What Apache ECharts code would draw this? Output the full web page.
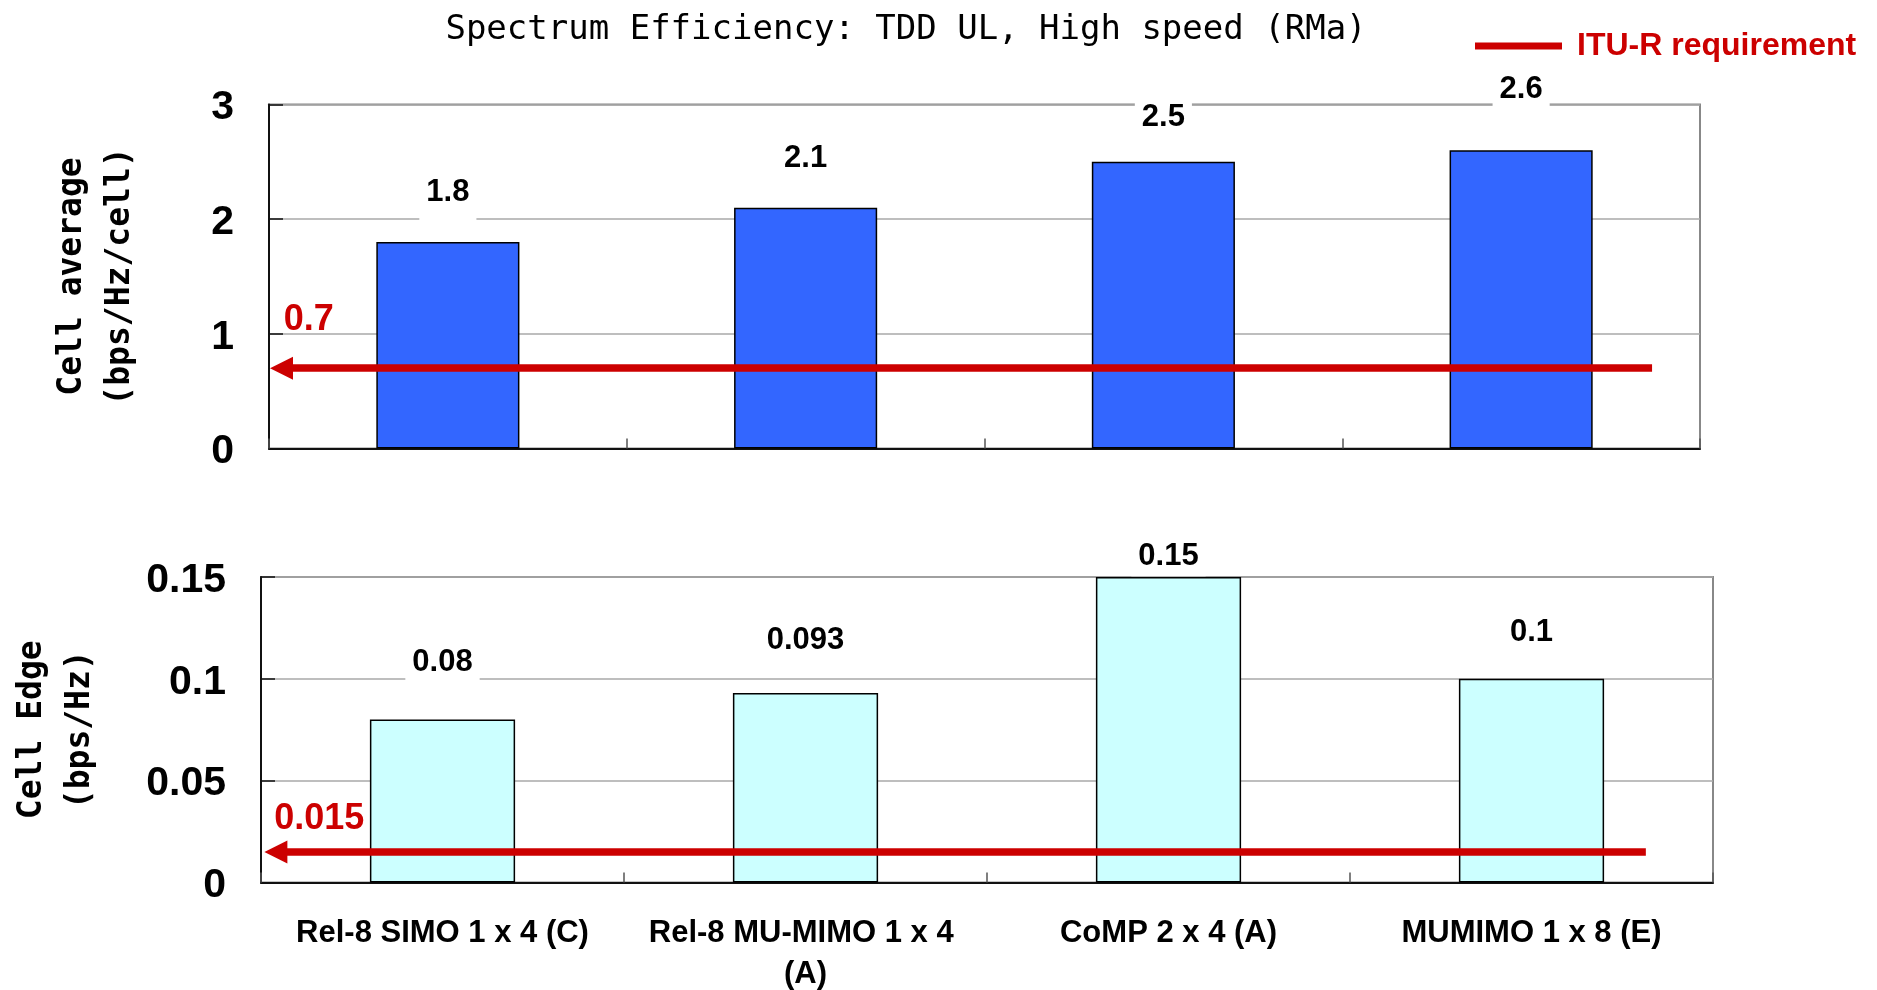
<!DOCTYPE html>
<html>
<head>
<meta charset="utf-8">
<script src="https://cdn.jsdelivr.net/npm/echarts@6/dist/echarts.min.js"></script>
<style>
  html, body { margin: 0; padding: 0; background: #fff; }
  #chart { width: 1877px; height: 990px; }
</style>
</head>
<body>
<div id="chart"></div>
<script>
// Schemes compared on the horizontal axis
const categories = ['Rel-8 SIMO 1 x 4 (C)', 'Rel-8 MU-MIMO 1 x 4 (A)', 'CoMP 2 x 4 (A)', 'MUMIMO 1 x 8 (E)'];
// Cell average spectrum efficiency (bps/Hz/cell)
const cellAverage = [1.8, 2.1, 2.5, 2.6];
// Cell edge spectrum efficiency (bps/Hz)
const cellEdge = [0.08, 0.093, 0.15, 0.1];
// Value-axis ticks of each panel
const avgTicks = [0, 1, 2, 3];
const edgeTicks = [0, 0.05, 0.1, 0.15];
// ITU-R minimum requirements
const avgRequirement = 0.7;
const edgeRequirement = 0.015;

const SANS = '"Liberation Sans", Arial, Helvetica, sans-serif';
const MONO = '"DejaVu Sans Mono", monospace';
const RED = '#CC0000';
const AXIS_DARK = '#111';

// Space between each bar top and its value box; vertical padding of the box
const avgLabelGap = [18.5, 18, 13.5, 29.5];
const avgLabelPad = [15.5, 15.5, 15.5, 15.5];
const edgeLabelGap = [26.5, 21.5, 0.8, 15];
const edgeLabelPad = [15.5, 15.5, 4, 15.5];

function barData(values, gaps, pads) {
  return values.map((v, i) => ({
    value: v,
    label: { distance: gaps[i], padding: [pads[i], 7] }
  }));
}

function valueAxis(gridIndex, ticks, name, nameGap) {
  return {
    type: 'value',
    gridIndex: gridIndex,
    min: ticks[0],
    max: ticks[ticks.length - 1],
    interval: ticks[1] - ticks[0],
    name: name,
    nameLocation: 'middle',
    nameRotate: 90,
    nameGap: nameGap,
    nameTextStyle: { fontFamily: MONO, fontWeight: 'bold', fontSize: 33, lineHeight: 48, color: '#000' },
    axisLine: { show: true, lineStyle: { color: AXIS_DARK, width: 2 } },
    axisTick: { show: true, inside: true, length: 14, lineStyle: { color: AXIS_DARK, width: 1.5 } },
    // a short top-aligned line box sets each number slightly below its tick
    axisLabel: {
      fontFamily: SANS, fontWeight: 'bold', fontSize: 41, color: '#000', margin: 35,
      verticalAlign: 'top', lineHeight: 7
    },
    splitLine: { show: true, lineStyle: { color: '#a8a8a8', width: 1.5 } }
  };
}

function categoryAxis(gridIndex, showLabels) {
  return {
    type: 'category',
    gridIndex: gridIndex,
    data: categories,
    axisLine: { show: true, lineStyle: { color: AXIS_DARK, width: 2 } },
    axisTick: { show: true, inside: true, length: 10, lineStyle: { color: '#555', width: 1.5 } },
    axisLabel: {
      show: showLabels,
      interval: 0,
      fontFamily: SANS,
      fontWeight: 'bold',
      fontSize: 31,
      lineHeight: 41,
      color: '#000',
      margin: 30,
      width: 330,
      overflow: 'break'
    },
    splitLine: { show: false }
  };
}

// Hidden linear axis spanning the category band, used to place the requirement arrows
function spanAxis(gridIndex) {
  return { type: 'value', gridIndex: gridIndex, min: 0, max: categories.length, show: false };
}

function barSeries(name, xi, yi, values, gaps, pads, color) {
  return {
    type: 'bar',
    name: name,
    xAxisIndex: xi,
    yAxisIndex: yi,
    barWidth: '40%',
    silent: true,
    data: barData(values, gaps, pads),
    itemStyle: { color: color, borderColor: '#000', borderWidth: 1.5 },
    label: {
      show: true,
      position: 'top',
      fontFamily: SANS,
      fontWeight: 'bold',
      fontSize: 31,
      lineHeight: 31,
      color: '#000',
      backgroundColor: '#fff'
    }
  };
}

function requirementSeries(xi, yi, req, span, labelOffset) {
  return {
    type: 'line',
    name: 'ITU-R requirement',
    xAxisIndex: xi,
    yAxisIndex: yi,
    data: [],
    symbol: 'none',
    itemStyle: { color: RED },
    lineStyle: { color: RED, width: 7.7 },
    markLine: {
      silent: true,
      animation: false,
      symbol: ['triangle', 'none'],
      symbolSize: [23, 23],
      lineStyle: { color: RED, width: 7.7, type: 'solid', cap: 'butt' },
      itemStyle: { color: RED },
      emphasis: { disabled: true },
      label: {
        show: true,
        position: 'insideStartTop',
        distance: labelOffset,
        formatter: () => String(req),
        color: RED,
        fontFamily: SANS,
        fontWeight: 'bold',
        fontSize: 36,
        lineHeight: 36
      },
      data: [[{ coord: [span[0], req] }, { coord: [span[1], req] }]]
    }
  };
}

const chart = echarts.init(document.getElementById('chart'), null, { renderer: 'canvas' });

chart.setOption({
  backgroundColor: '#fff',
  animation: false,
  title: {
    text: 'Spectrum Efficiency: TDD UL, High speed (RMa)',
    left: 906,
    top: 13.5,
    padding: 0,
    textAlign: 'center',
    textStyle: { fontFamily: MONO, fontWeight: 'normal', fontSize: 34, color: '#000' }
  },
  legend: {
    left: 1475,
    top: 30,
    padding: 0,
    itemWidth: 87,
    itemHeight: 7,
    selectedMode: false,
    data: [{ name: 'ITU-R requirement', icon: 'rect' }],
    textStyle: { color: RED, fontFamily: SANS, fontWeight: 'bold', fontSize: 32, padding: [0, 0, 0, 10] }
  },
  grid: [
    { left: 269, right: 177, top: 104.5, height: 344, show: true, borderColor: '#888', borderWidth: 2, outerBoundsMode: 'none' },
    { left: 261, right: 164, top: 577, height: 305.5, show: true, borderColor: '#888', borderWidth: 2, outerBoundsMode: 'none' }
  ],
  xAxis: [categoryAxis(0, false), spanAxis(0), categoryAxis(1, true), spanAxis(1)],
  yAxis: [
    valueAxis(0, avgTicks, 'Cell average\n(bps/Hz/cell)', 125),
    valueAxis(1, edgeTicks, 'Cell Edge\n(bps/Hz)', 157)
  ],
  series: [
    barSeries('Cell average', 0, 0, cellAverage, avgLabelGap, avgLabelPad, '#3366FF'),
    barSeries('Cell edge', 2, 1, cellEdge, edgeLabelGap, edgeLabelPad, '#CCFFFF'),
    requirementSeries(1, 0, avgRequirement, [0.035, 3.866], [2.3, 30]),
    requirementSeries(3, 1, edgeRequirement, [0.041, 3.815], [-1.7, 14.5])
  ]
});
</script>
</body>
</html>
